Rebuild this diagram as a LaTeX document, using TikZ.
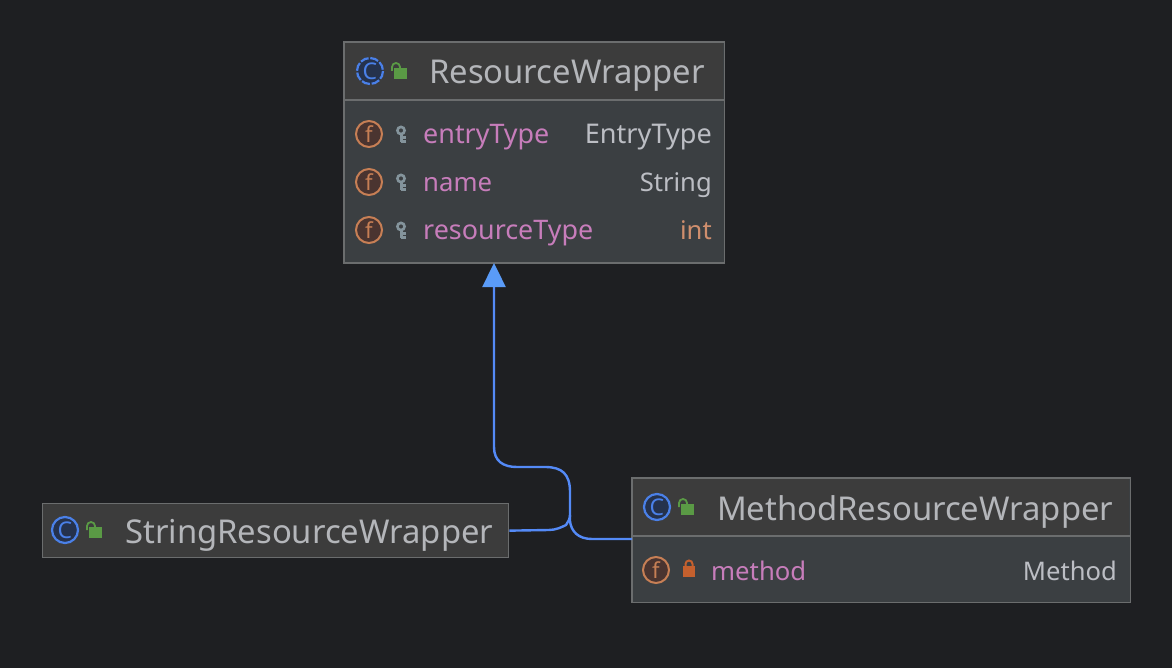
\documentclass[tikz,border=0pt]{standalone}
\usepackage{fontspec}
\setmainfont{Noto Sans}
\usetikzlibrary{arrows.meta,calc}
\definecolor{bg}{HTML}{1E1F22}
\definecolor{head}{HTML}{3C3C3C}
\definecolor{body}{HTML}{3B3F42}
\definecolor{edge}{HTML}{6B6D6E}
\definecolor{title}{HTML}{B4B6BA}
\definecolor{field}{HTML}{C77DBB}
\definecolor{typ}{HTML}{BCBEC4}
\definecolor{prim}{HTML}{CF8E6D}
\definecolor{conn}{HTML}{548AF7}
\definecolor{tipc}{HTML}{5A9BF8}
\definecolor{cblue}{HTML}{4A80E8}
\definecolor{cfill}{HTML}{25324D}
\definecolor{forange}{HTML}{C77F55}
\definecolor{ffill}{HTML}{4A3430}
\definecolor{lockg}{HTML}{5A9A45}
\definecolor{lockr}{HTML}{C4602E}
\definecolor{keyc}{HTML}{84949C}
\tikzset{
  x=1pt,y=-1pt,
  umlbox/.style={draw=edge,line width=1.3pt,inner sep=0pt,anchor=north west},
  titletext/.style={text=title,font=\fontsize{32.8}{33}\selectfont,anchor=base west,inner sep=0pt},
  fieldtext/.style={text=field,font=\fontsize{26.9}{27}\selectfont,anchor=base west,inner sep=0pt},
  shortfield/.style={fieldtext,font=\fontsize{25.7}{26}\selectfont},
  typetext/.style={text=typ,font=\fontsize{25.6}{26}\selectfont,anchor=base east,inner sep=0pt},
  divider/.style={edge,line width=1.3pt},
  link/.style={conn,line width=2.4pt},
  inherit/.style={link,-{Triangle[length=24pt,width=23pt,color=tipc]}},
  cicon/.pic={
    \draw[fill=cfill,draw=cblue,line width=2.2pt] (0,0) circle[radius=13];
    \node[text=cblue,font=\fontsize{23}{23}\selectfont,inner sep=0pt] at (0,0) {C};
  },
  absicon/.pic={
    \draw[fill=cfill,draw=cblue,line width=2.2pt,dash pattern=on 8.4pt off 1.8pt] (0,0) circle[radius=13];
    \node[text=cblue,font=\fontsize{23}{23}\selectfont,inner sep=0pt] at (0,0) {C};
  },
  ficon/.pic={
    \draw[fill=ffill,draw=forange,line width=2pt] (0,0) circle[radius=13];
    \node[text=forange,font=\fontsize{22}{22}\selectfont,inner sep=0pt] at (0,0) {f};
  },
  openlock/.pic={
    \fill[lockg] (-5,-3) rectangle (8,8);
    \draw[lockg,line width=1.8pt] (-7,0) -- (-7,-4) arc[start angle=180,end angle=360,radius=4] -- (1,-3);
  },
  closedlock/.pic={
    \fill[lockr] (-6,-2) rectangle (6,9);
    \draw[lockr,line width=2pt] (-3.5,-2) -- (-3.5,-4) arc[start angle=180,end angle=360,radius=3.5] -- (3.5,-2);
  },
  keyicon/.pic={
    \draw[keyc,line width=2.6pt] (0,-3.5) circle[radius=3.6];
    \draw[keyc,line width=3pt] (0,0) -- (0,8.5);
    \draw[keyc,line width=2.2pt] (0,3.5) -- (4.5,3.5) (0,7.5) -- (4.5,7.5);
  }
}
\begin{document}
\begin{tikzpicture}
\useasboundingbox[fill=bg] (0,0) rectangle (1172,668);

% ResourceWrapper
\node[umlbox,fill=body,minimum width=379.5pt,minimum height=220pt] (res) at (344,42) {};
\fill[head] (345,43) rectangle (723,100);
\draw[divider] (344,100) -- (723.5,100);
\draw[edge,line width=1.3pt] (res.north west) rectangle (res.south east);
\pic at (370,71) {absicon};
\pic at (399,71) {openlock};
\node[titletext] (resname) at (429,84) {ResourceWrapper};
\pic at (369,134) {ficon};
\pic at (401,134) {keyicon};
\node[fieldtext] (f1) at (423,144) {entryType};
\node[typetext,font=\fontsize{27.1}{27}\selectfont] (t1) at (712,144) {EntryType};
\pic at (369,182) {ficon};
\pic at (401,182) {keyicon};
\node[shortfield] (f2) at (423,192) {name};
\node[typetext] (t2) at (712,192) {String};
\pic at (369,230) {ficon};
\pic at (401,230) {keyicon};
\node[fieldtext] (f3) at (423,240) {resourceType};
\node[typetext,text=prim] (t3) at (712,240) {int};

% StringResourceWrapper
\node[umlbox,fill=head,minimum width=466.5pt,minimum height=54pt] (str) at (41.5,503) {};
\pic at (65,530) {cicon};
\pic at (94,530) {openlock};
\node[titletext] (strname) at (125,543) {StringResourceWrapper};

% MethodResourceWrapper
\node[umlbox,fill=body,minimum width=497.5pt,minimum height=123.5pt] (meth) at (632,478) {};
\fill[head] (633,479) rectangle (1129,536);
\draw[divider] (632,536) -- (1129.5,536);
\draw[edge,line width=1.3pt] (meth.north west) rectangle (meth.south east);
\pic at (657,507) {cicon};
\pic at (686,507) {openlock};
\node[titletext] (methname) at (717,520) {MethodResourceWrapper};
\pic at (656,570) {ficon};
\pic at (689,568) {closedlock};
\node[shortfield] (f4) at (711,580) {method};
\node[typetext] (t4) at (1117,580) {Method};

% connectors
\coordinate (tip) at (494,263);
\coordinate (joint) at (570,515);
\draw[link] (str.east) -- (549,530) .. controls (556,530) and (562,527) .. (566,525) .. controls (568,522) and (570,519) .. (joint);
\draw[link] (meth.west |- 0,539) -- (592,539) .. controls (578,539) and (571,531) .. (570,521) -- (joint);
\draw[inherit] (joint) -- (570,492) .. controls (570,474) and (562,467) .. (545,467) -- (517,467) .. controls (503,467) and (494,461) .. (494,447) -- (tip);
\end{tikzpicture}
\end{document}
